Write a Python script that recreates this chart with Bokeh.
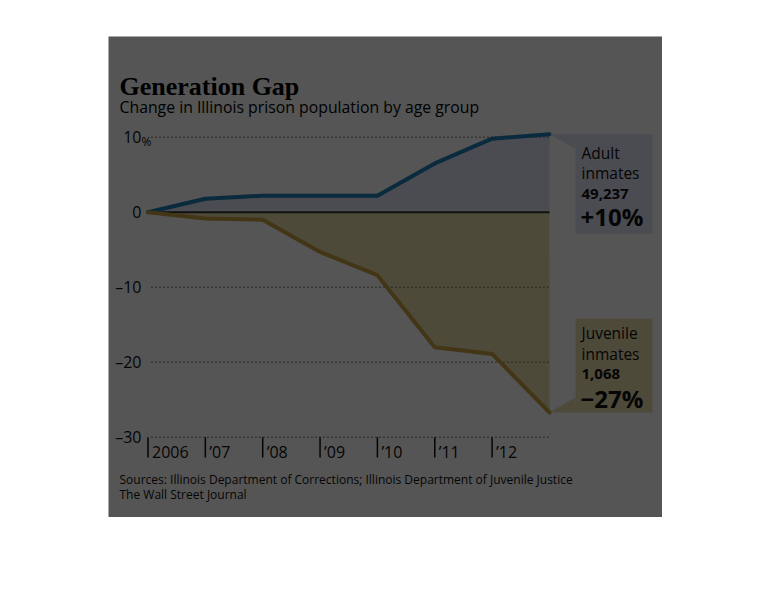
from bokeh.plotting import figure
from bokeh.models import Range1d, Label
from bokeh.core.properties import value
from bokeh.embed import file_html
from bokeh.resources import INLINE

# ---- data ----
years = [2006, 2007, 2008, 2009, 2010, 2011, 2012, 2013]
adult = [0.0, 1.8, 2.2, 2.2, 2.2, 6.5, 9.8, 10.4]
juvenile = [0.0, -0.85, -1.0, -5.3, -8.4, -18.0, -18.9, -26.7]
tick_years = [2006, 2007, 2008, 2009, 2010, 2011, 2012]
tick_labels = ["2006", "\u201907", "\u201908", "\u201909", "\u201910", "\u201911", "\u201912"]
y_ticks = [10, 0, -10, -20, -30]
y_tick_labels = ["10", "0", "\u201310", "\u201320", "\u201330"]
grid_values = [10, -10, -20, -30]
adult_count = "49,237"
adult_pct = "+10%"
juv_count = "1,068"
juv_pct = "\u221227%"

# ---- layout helpers (page pixels -> data) ----
PPY = 57.35
def X(px):
    return 2006 + (px - 147.5) / PPY
def Y(py):
    return (211.7 - py) / 7.5

BG = "#555555"
ADULT_FILL = "#4a4c51"
JUV_FILL = "#4e4a3a"
ADULT_LINE = "#0a2a3d"
JUV_LINE = "#433616"
TXT = "#050505"
SANS = "Open Sans"

p = figure(width=662, height=517, output_backend="svg", toolbar_location=None,
           x_range=Range1d(X(108), X(662)), y_range=Range1d(Y(517), Y(36)),
           x_axis_location=None, y_axis_location=None,
           min_border_left=108, min_border_right=0, min_border_top=36, min_border_bottom=0,
           background_fill_color=BG, border_fill_color="white", outline_line_color=None)
p.title.visible = False
p.xgrid.visible = False
p.ygrid.visible = False

# fills
p.varea(x=years, y1=[0] * len(years), y2=adult, fill_color=ADULT_FILL)
p.varea(x=years, y1=juvenile, y2=[0] * len(years), fill_color=JUV_FILL)

# callout boxes anchored to last points
ex = years[-1]
a_end = adult[-1]
j_end = juvenile[-1]
p.quad(left=X(575), right=X(652), top=a_end, bottom=Y(233), fill_color=ADULT_FILL, line_color=None)
p.patch(x=[ex, X(575), X(575)], y=[a_end, a_end, Y(148)], fill_color=ADULT_FILL, line_color=None)
p.quad(left=X(575), right=X(652), top=Y(318), bottom=j_end, fill_color=JUV_FILL, line_color=None)
p.patch(x=[ex, X(575), X(575)], y=[j_end, j_end, Y(397)], fill_color=JUV_FILL, line_color=None)

# dotted grid
n = len(grid_values)
p.segment(x0=[2006.06] * n, x1=[years[-1]] * n, y0=grid_values, y1=grid_values,
          line_color="#1a1a1a", line_width=1.5, line_dash="1 3")
# zero line
p.segment(x0=[years[0]], x1=[years[-1]], y0=[0], y1=[0], line_color="#111111", line_width=2)

# lines
p.line(years, adult, line_color=ADULT_LINE, line_width=4, line_cap="round", line_join="round")
p.line(years, juvenile, line_color=JUV_LINE, line_width=4, line_cap="round", line_join="round")

# y labels
k = len(y_ticks)
p.text(x=[years[0]] * k, y=y_ticks, text=y_tick_labels, x_offset=-6.5,
       text_baseline="middle", text_align="right", text_font=value(SANS),
       text_font_size="16px", text_color=TXT)
p.text(x=[years[0]], y=[y_ticks[0]], text=["%"], x_offset=-6.5, y_offset=4,
       text_baseline="alphabetic", text_align="left", text_font=value(SANS),
       text_font_size="12px", text_color=TXT)

# x ticks and labels
m = len(tick_years)
p.segment(x0=tick_years, x1=tick_years, y0=[-30] * m, y1=[Y(457)] * m,
          line_color=TXT, line_width=1.5)
p.text(x=tick_years, y=[-30] * m, text=tick_labels, x_offset=4, y_offset=15,
       text_baseline="middle", text_align="left", text_font=value(SANS),
       text_font_size="16px", text_color=TXT)

# titles
p.add_layout(Label(x=X(119), y=Y(86), text="Generation Gap", text_font="Liberation Serif",
                   text_font_style="bold", text_font_size="26px", text_color="#000000",
                   text_baseline="alphabetic", text_align="left"))
p.add_layout(Label(x=X(119), y=Y(106), text="Change in Illinois prison population by age group",
                   text_font=SANS, text_font_size="15.8px", text_color="#000000",
                   text_baseline="middle", text_align="left"))

# callout texts
def lab(x, y, t, size, bold=False):
    p.add_layout(Label(x=X(x), y=Y(y), text=t, text_font=SANS, text_font_size=size,
                       text_font_style="bold" if bold else "normal", text_color=TXT,
                       text_baseline="middle", text_align="left"))

lab(581, 152, "Adult", "15.5px")
lab(581, 172, "inmates", "15.5px")
lab(581, 193, adult_count, "15px", True)
lab(580, 216, adult_pct, "24px", True)
lab(581, 332, "Juvenile", "15.5px")
lab(581, 353, "inmates", "15.5px")
lab(581, 373, juv_count, "15px", True)
lab(580, 398, juv_pct, "24px", True)

# sources
lab(119, 479, "Sources: Illinois Department of Corrections; Illinois Department of Juvenile Justice", "12px")
lab(119, 494, "The Wall Street Journal", "12px")

open("out.html", "w").write(file_html(p, INLINE))
